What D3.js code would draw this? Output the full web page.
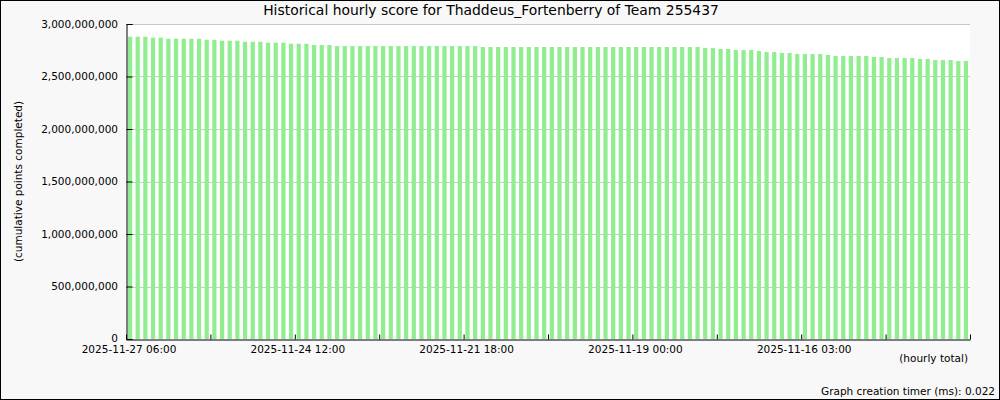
<!DOCTYPE html>
<html><head><meta charset="utf-8">
<script src="https://cdn.jsdelivr.net/npm/d3@7/dist/d3.min.js"></script>
<style>
html,body{margin:0;padding:0;background:#f8f8f8;}
svg{display:block;font-family:"DejaVu Sans",sans-serif;}
</style></head><body>
<svg id="chart" width="1000" height="400"></svg>
<script>
const titleText = "Historical hourly score for Thaddeus_Fortenberry of Team 255437";
const yAxisTitle = "(cumulative points completed)";
const xAxisNote = "(hourly total)";
const footerText = "Graph creation timer (ms): 0.022";
const xTickLabels = ["2025-11-27 06:00","2025-11-24 12:00","2025-11-21 18:00","2025-11-19 00:00","2025-11-16 03:00"];
const xTickLabelIndex = [0,22,44,66,88];
const yTicks = [0,500000000,1000000000,1500000000,2000000000,2500000000,3000000000];
const scores = [
2879000000,2879000000,2879000000,2870000000,2870000000,
2860000000,2860000000,2860000000,2860000000,2860000000,
2850000000,2850000000,2841000000,2841000000,2841000000,
2831000000,2831000000,2831000000,2822000000,2822000000,
2822000000,2812000000,2812000000,2812000000,2800000000,
2800000000,2800000000,2790000000,2790000000,2790000000,
2790000000,2790000000,2790000000,2790000000,2790000000,
2790000000,2790000000,2790000000,2790000000,2790000000,
2790000000,2790000000,2790000000,2790000000,2790000000,
2790000000,2781000000,2781000000,2781000000,2781000000,
2781000000,2781000000,2781000000,2781000000,2781000000,
2781000000,2781000000,2781000000,2781000000,2781000000,
2781000000,2781000000,2781000000,2781000000,2781000000,
2781000000,2781000000,2781000000,2781000000,2781000000,
2781000000,2781000000,2781000000,2781000000,2781000000,
2771000000,2771000000,2762000000,2762000000,2752000000,
2752000000,2752000000,2743000000,2733000000,2733000000,
2724000000,2724000000,2714000000,2714000000,2714000000,
2714000000,2705000000,2695000000,2695000000,2695000000,
2695000000,2695000000,2686000000,2686000000,2676000000,
2676000000,2676000000,2676000000,2667000000,2667000000,
2657000000,2657000000,2657000000,2648000000,2648000000
];

const svg = d3.select("#chart");
const L = 126, R = 970, T = 24, B = 339;
const n = scores.length;

svg.append("rect").attr("x",0.5).attr("y",0.5).attr("width",999).attr("height",399)
  .attr("fill","#f8f8f8").attr("stroke","#000");
svg.append("rect").attr("x",L).attr("y",T).attr("width",R-L).attr("height",B-T).attr("fill","#fff");

const y = d3.scaleLinear().domain([0,3000000000]).range([B,T]);
const xb = d3.scaleBand().domain(d3.range(n)).range([L,R]).paddingInner(0.45).paddingOuter(0.25);
const xl = d3.scaleLinear().domain([0,n]).range([L,R]);

// grid
svg.append("g").selectAll("line").data(yTicks.filter(v=>v>0)).join("line")
  .attr("x1",L).attr("x2",R).attr("y1",d=>Math.round(y(d))+0.5).attr("y2",d=>Math.round(y(d))+0.5)
  .attr("stroke","#c8c8c8").attr("stroke-width",1);

// bars
svg.append("g").selectAll("rect").data(scores).join("rect")
  .attr("x",(d,i)=>xb(i)).attr("width",xb.bandwidth())
  .attr("y",d=>y(d)).attr("height",d=>B-y(d)).attr("fill","#90ee90");

// y axis
const yAxis = svg.append("g").attr("transform",`translate(${L+0.5},0)`)
  .call(d3.axisLeft(y).tickValues(yTicks).tickSize(-6).tickPadding(8.5).tickFormat(d3.format(",")));
yAxis.select(".domain").attr("stroke","#000");
yAxis.selectAll(".tick line").attr("stroke","#000");
yAxis.selectAll("text").attr("font-size","10.5px").attr("fill","#000").attr("font-family","DejaVu Sans");
yAxis.selectAll(".tick").filter(d=>d===0).select("text").attr("dy","0.2em");

// x axis
const labelMap = new Map(xTickLabelIndex.map((k,i)=>[k,xTickLabels[i]]));
const xAxis = svg.append("g").attr("transform",`translate(0,${B+0.5})`)
  .call(d3.axisBottom(xl).tickValues(d3.range(0,n+1,11)).tickSize(-5).tickSizeOuter(0)
    .tickFormat(d=>labelMap.get(d)||""));
xAxis.select(".domain").attr("stroke","#000");
xAxis.selectAll(".tick line").attr("stroke","#000");
xAxis.selectAll("text").attr("font-size","10.5px").attr("fill","#000").attr("font-family","DejaVu Sans")
  .attr("y",13).attr("dy",0).attr("dx",2.5);

// texts
svg.append("text").attr("x",491).attr("y",15).attr("text-anchor","middle")
  .attr("font-size","13.9px").attr("fill","#000").text(titleText);
svg.append("text").attr("transform",`translate(22,${(T+B)/2}) rotate(-90)`).attr("text-anchor","middle")
  .attr("font-size","10.5px").attr("fill","#000").text(yAxisTitle);
svg.append("text").attr("x",968).attr("y",362).attr("text-anchor","end")
  .attr("font-size","10.5px").attr("fill","#000").text(xAxisNote);
svg.append("text").attr("x",995).attr("y",395).attr("text-anchor","end")
  .attr("font-size","10.5px").attr("fill","#000").text(footerText);
</script>
</body></html>
